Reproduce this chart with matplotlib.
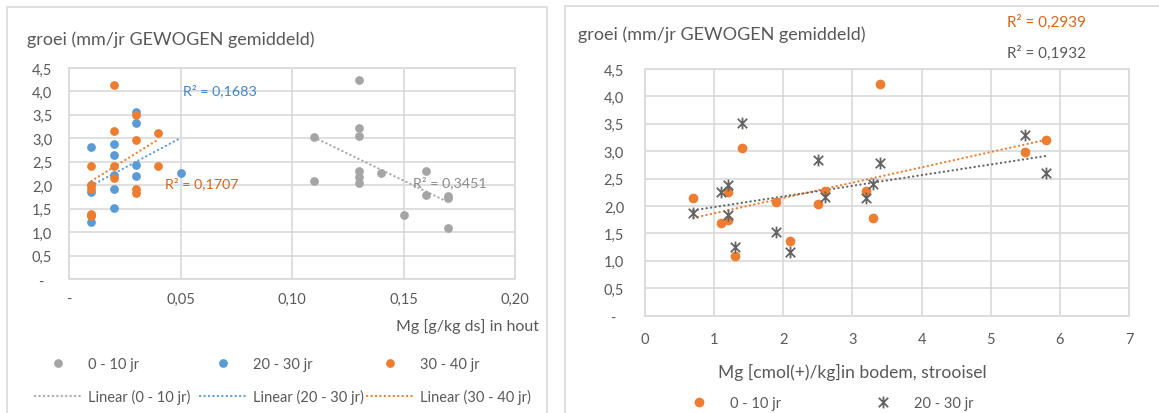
import numpy as np
import matplotlib.pyplot as plt
from matplotlib.path import Path
from matplotlib.patches import Rectangle
from matplotlib.lines import Line2D
from matplotlib.ticker import FuncFormatter, MultipleLocator

plt.rcParams['font.family'] = ['Lato', 'DejaVu Sans']

# --- Mg in hout [g/kg ds] tegen groei ---
hout_x_0_10 = [0.11, 0.11, 0.13, 0.13, 0.13, 0.13, 0.13, 0.13, 0.14, 0.15, 0.16, 0.16, 0.17, 0.17, 0.17]
hout_y_0_10 = [3.02, 2.10, 4.25, 3.22, 3.05, 2.30, 2.18, 2.05, 2.27, 1.37, 2.30, 1.80, 1.76, 1.72, 1.09]

hout_x_20_30 = [0.01, 0.01, 0.01, 0.01, 0.01, 0.02, 0.02, 0.02, 0.02, 0.02, 0.03, 0.03, 0.03, 0.03, 0.05]
hout_y_20_30 = [2.81, 2.00, 1.85, 1.37, 1.21, 2.87, 2.65, 2.22, 1.91, 1.51, 3.56, 3.33, 2.44, 2.19, 2.26]

hout_x_30_40 = [0.01, 0.01, 0.01, 0.01, 0.01, 0.02, 0.02, 0.02, 0.02, 0.03, 0.03, 0.03, 0.03, 0.04, 0.04]
hout_y_30_40 = [2.42, 2.00, 1.92, 1.39, 1.34, 4.13, 3.15, 2.42, 2.16, 3.49, 2.96, 1.91, 1.83, 3.11, 2.42]

# --- Mg [cmol(+)/kg] in bodem, strooisel tegen groei ---
bodem_x = [0.7, 1.1, 1.2, 1.2, 1.3, 1.4, 1.9, 2.1, 2.5, 2.6, 3.2, 3.3, 3.4, 5.5, 5.8]
bodem_y_0_10 = [2.14, 1.70, 2.26, 1.75, 1.09, 3.05, 2.08, 1.37, 2.03, 2.28, 2.27, 1.78, 4.22, 2.99, 3.21]
bodem_y_20_30 = [1.88, 2.25, 2.38, 1.83, 1.26, 3.51, 1.52, 1.17, 2.84, 2.16, 2.14, 2.41, 2.79, 3.29, 2.60]

r2_hout = {'0 - 10 jr': '0,3451', '20 - 30 jr': '0,1683', '30 - 40 jr': '0,1707'}
r2_bodem = {'0 - 10 jr': '0,2939', '20 - 30 jr': '0,1932'}

TXT = '#595959'
GRID = '#D9D9D9'
GRAY = '#A5A5A5'
BLUE = '#5B9BD5'
ORANGE = '#ED7D31'
DARK = '#646464'
DOTS = (0, (0.1, 1.9))

W, H = 1159, 414
fig = plt.figure(figsize=(W / 100, H / 100), dpi=100)


def fx(px):
    return px / W


def fy(py):
    return 1 - py / H


# chart borders
fig.patches.append(Rectangle((fx(7), -0.1), fx(540), fy(8) + 0.1, transform=fig.transFigure,
                             fill=False, ec=GRID, lw=1.2))
fig.patches.append(Rectangle((fx(565), -0.1), 1, fy(7) + 0.1, transform=fig.transFigure,
                             fill=False, ec=GRID, lw=1.2))

# asterisk-like star marker (X with vertical stroke)
star = Path([(-1, -1), (1, 1), (-1, 1), (1, -1), (0, -1.25), (0, 1.25)],
            [Path.MOVETO, Path.LINETO] * 3)


def comma(v, nd):
    if abs(v) < 1e-9:
        return '-'
    return f'{v:.{nd}f}'.replace('.', ',')


def style_axes(ax, xpad, ypad):
    ax.set_facecolor('white')
    for s in ax.spines.values():
        s.set_color(GRID)
        s.set_linewidth(1.2)
    ax.grid(True, color=GRID, lw=1.2)
    ax.set_axisbelow(True)
    ax.tick_params(length=0, labelsize=10.5, labelcolor=TXT)
    ax.tick_params(axis='x', pad=xpad)
    ax.tick_params(axis='y', pad=ypad)
    ax.set_ylim(0, 4.5)
    ax.yaxis.set_major_locator(MultipleLocator(0.5))
    ax.yaxis.set_major_formatter(FuncFormatter(lambda v, p: '-  ' if abs(v) < 1e-9 else comma(v, 1)))


def dotted(color):
    return dict(color=color, lw=1.6, ls=DOTS, dash_capstyle='round')


def trend(ax, x, y, color):
    x = np.asarray(x)
    k, b = np.polyfit(x, y, 1)
    xs = np.array([x.min(), x.max()])
    ax.plot(xs, k * xs + b, **dotted(color))


# ---------------- left chart ----------------
ax1 = fig.add_axes([fx(69), fy(280), fx(446), fy(69) - fy(280)])
style_axes(ax1, xpad=9, ypad=12)
ax1.set_xlim(0, 0.2)
ax1.xaxis.set_major_locator(MultipleLocator(0.05))
ax1.xaxis.set_major_formatter(FuncFormatter(lambda v, p: comma(v, 2)))

series_hout = [
    ('0 - 10 jr', hout_x_0_10, hout_y_0_10, GRAY),
    ('20 - 30 jr', hout_x_20_30, hout_y_20_30, BLUE),
    ('30 - 40 jr', hout_x_30_40, hout_y_30_40, ORANGE),
]
for name, x, y, c in series_hout:
    ax1.plot(x, y, 'o', ms=6.3, color=c, mec='none', zorder=3)
for name, x, y, c in series_hout:
    trend(ax1, x, y, c)

fig.text(fx(27), fy(40), 'groei (mm/jr GEWOGEN gemiddeld)', fontsize=13, color=TXT, va='center')
fig.text(fx(539), fy(327), 'Mg [g/kg ds] in hout', fontsize=11.5, color=TXT, ha='right', va='center')
fig.text(fx(183), fy(91), 'R² = ' + r2_hout['20 - 30 jr'], fontsize=10.3, color='#3F84C7', va='center')
fig.text(fx(165), fy(184), 'R² = ' + r2_hout['30 - 40 jr'], fontsize=10.3, color='#D0661F', va='center')
fig.text(fx(413), fy(183), 'R² = ' + r2_hout['0 - 10 jr'], fontsize=10.3, color='#8C8C8C', va='center')

# legend: one block per series, markers on top row and trendline below
for (name, x, y, c), lx in zip(series_hout, [35, 200, 367]):
    handles = [Line2D([], [], ls='none', marker='o', ms=6.3, color=c, mec='none'),
               Line2D([], [], **dotted(c))]
    fig.legend(handles, [name, f'Linear ({name})'], loc='upper left',
               bbox_to_anchor=(fx(lx), fy(358)), frameon=False, borderpad=0, borderaxespad=0,
               handlelength=3.2, handletextpad=0.45, labelspacing=1.25, fontsize=10.5,
               labelcolor=TXT)

# ---------------- right chart ----------------
ax2 = fig.add_axes([fx(645), fy(316.7), fx(484), fy(70) - fy(316.7)])
style_axes(ax2, xpad=12, ypad=15)
ax2.set_xlim(0, 7)
ax2.xaxis.set_major_locator(MultipleLocator(1))
ax2.xaxis.set_major_formatter(FuncFormatter(lambda v, p: f'{v:.0f}'))

ax2.plot(bodem_x, bodem_y_0_10, 'o', ms=7, color=ORANGE, mec='none', zorder=3)
ax2.plot(bodem_x, bodem_y_20_30, ls='none', marker=star, ms=8.5, mfc='none', mec=DARK, mew=1.3, zorder=4)
trend(ax2, bodem_x, bodem_y_0_10, ORANGE)
trend(ax2, bodem_x, bodem_y_20_30, DARK)

fig.text(fx(578), fy(35), 'groei (mm/jr GEWOGEN gemiddeld)', fontsize=13, color=TXT, va='center')
fig.text(fx(718), fy(372), 'Mg [cmol(+)/kg]in bodem, strooisel', fontsize=12.6, color=TXT, va='center')
fig.text(fx(1007), fy(22), 'R² = ' + r2_bodem['0 - 10 jr'], fontsize=11, color='#D0661F', va='center')
fig.text(fx(1007), fy(53), 'R² = ' + r2_bodem['20 - 30 jr'], fontsize=11, color=TXT, va='center')

for (name, h), lx in zip([('0 - 10 jr', Line2D([], [], ls='none', marker='o', ms=7, color=ORANGE, mec='none')),
                          ('20 - 30 jr', Line2D([], [], ls='none', marker=star, ms=8.5, mfc='none',
                                                mec=DARK, mew=1.3))], [676, 860]):
    fig.legend([h], [name], loc='upper left', bbox_to_anchor=(fx(lx), fy(397)), frameon=False,
               borderpad=0, borderaxespad=0, handlelength=3.2, handletextpad=0.5, fontsize=10.5,
               labelcolor=TXT)

fig.savefig('out.png', dpi=100, facecolor='white')
